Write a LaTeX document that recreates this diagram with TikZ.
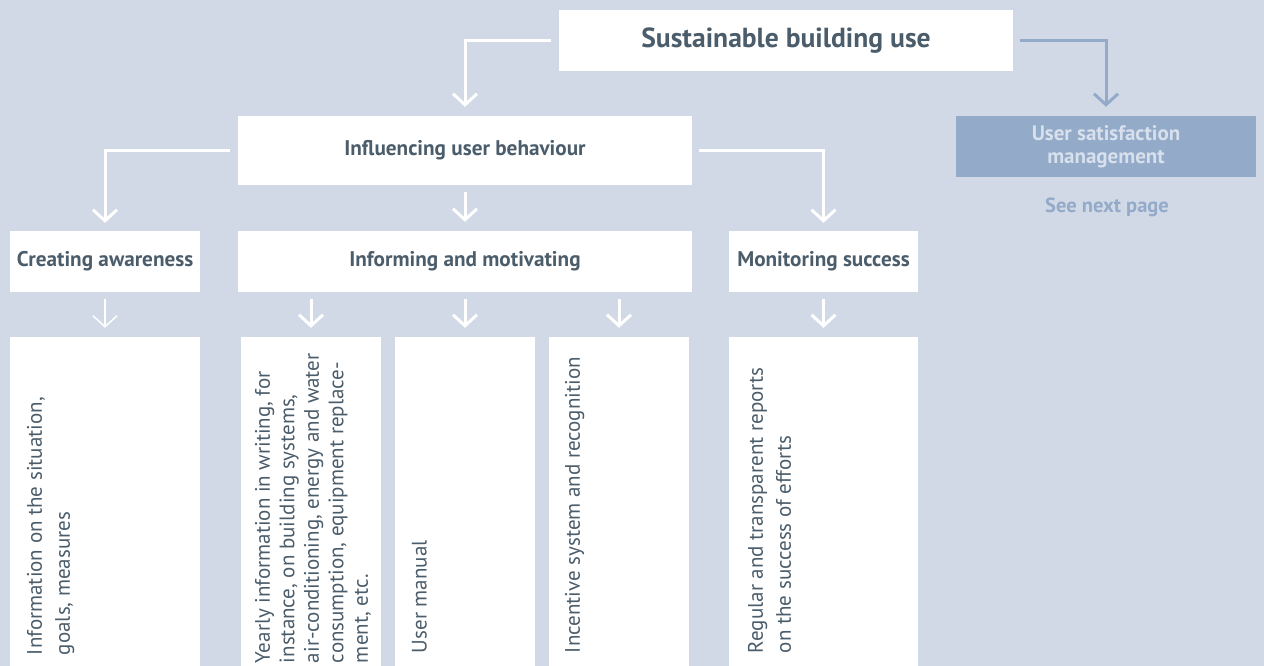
\documentclass[tikz,border=0pt]{standalone}
\usepackage{fontspec}
\setmainfont{PT Sans}
\usetikzlibrary{arrows.meta,calc}
\definecolor{bg}{HTML}{D1D9E7}
\definecolor{ink}{HTML}{4B5D6B}
\definecolor{blu}{HTML}{93AAC9}
\definecolor{lbl}{HTML}{D8E0EC}
\begin{document}
\begin{tikzpicture}[x=1pt,y=-1pt,
  box/.style={fill=white,inner sep=0pt,text=ink,align=center},
  hd/.style={box,font={\bfseries\fontsize{21.2}{25}\selectfont}},
  leaf/.style={fill=white,inner sep=0pt},
  body/.style={rotate=90,anchor=north west,inner sep=0pt,text=ink,align=left,font={\fontsize{21}{28}\selectfont}},
  conn/.style={draw=white,line width=3pt,-{Straight Barb[length=11pt,width=24pt]}},
  thin/.style={line width=1.5pt}]
\useasboundingbox (0,0) rectangle (1264,666);
\fill[bg] (0,0) rectangle (1264,666);
% level 1
\node[box,minimum width=454pt,minimum height=61pt,font={\bfseries\fontsize{27.6}{32}\selectfont}] (top) at (786,40.5) {Sustainable building use};
\node[box,fill=blu,text=lbl,minimum width=300pt,minimum height=61pt,font={\bfseries\fontsize{21}{23}\selectfont}] (usm) at (1106,146.5) {User satisfaction\\management};
\node[text=blu,inner sep=0pt,font={\bfseries\fontsize{20.5}{23}\selectfont}] (see) at (1107,207) {See next page};
% level 2
\node[hd,minimum width=454pt,minimum height=69pt] (infl) at (465,150.5) {Influencing user behaviour};
% level 3
\node[hd,minimum width=190pt,minimum height=61pt] (ca) at (105,261.5) {Creating awareness};
\node[hd,minimum width=454pt,minimum height=61pt] (im) at (465,261.5) {Informing and motivating};
\node[hd,minimum width=189pt,minimum height=61pt] (ms) at (823.5,261.5) {Monitoring success};
% level 4
\node[leaf,minimum width=190pt,minimum height=329pt] (b1) at (105,501.5) {};
\node[leaf,minimum width=140pt,minimum height=329pt] (b2) at (311,501.5) {};
\node[leaf,minimum width=140pt,minimum height=329pt] (b3) at (465,501.5) {};
\node[leaf,minimum width=140pt,minimum height=329pt] (b4) at (619,501.5) {};
\node[leaf,minimum width=189pt,minimum height=329pt] (b5) at (823.5,501.5) {};
\node[body] (t1) at ($(b1.south west)+(17,-11)$) {Information on the situation,\\goals, measures};
\node[body,font={\fontsize{21}{24.5}\selectfont}] (t2) at ($(b2.south west)+(14,-3)$) {Yearly information in writing, for\\instance, on building systems,\\air-conditioning, energy and water\\consumption, equipment replace-\\ment, etc.};
\node[body] (t3) at ($(b3.south west)+(17,-13)$) {User manual};
\node[body] (t4) at ($(b4.south west)+(16,-13)$) {Incentive system and recognition};
\node[body] (t5) at ($(b5.south west)+(19,-13)$) {Regular and transparent reports\\on the success of efforts};
% connectors
\draw[conn,shorten <=8pt,shorten >=9pt] (top.west) -| (infl.north);
\draw[conn,draw=blu,shorten <=7pt,shorten >=9pt] (top.east) -| (usm.north);
\draw[conn,shorten <=8pt,shorten >=8pt] (infl.west) -| (ca.north);
\draw[conn,shorten <=7pt,shorten >=8pt] (infl.east) -| (ms.north);
\draw[conn,shorten <=7pt,shorten >=9pt] (infl.south) -- (im.north);
\draw[conn,thin,shorten <=7pt,shorten >=9pt] (ca.south) -- (b1.north);
\draw[conn,shorten <=7pt,shorten >=9pt] (im.south -| b2.north) -- (b2.north);
\draw[conn,shorten <=7pt,shorten >=9pt] (im.south -| b3.north) -- (b3.north);
\draw[conn,shorten <=7pt,shorten >=9pt] (im.south -| b4.north) -- (b4.north);
\draw[conn,shorten <=7pt,shorten >=9pt] (ms.south) -- (b5.north);
\end{tikzpicture}
\end{document}
